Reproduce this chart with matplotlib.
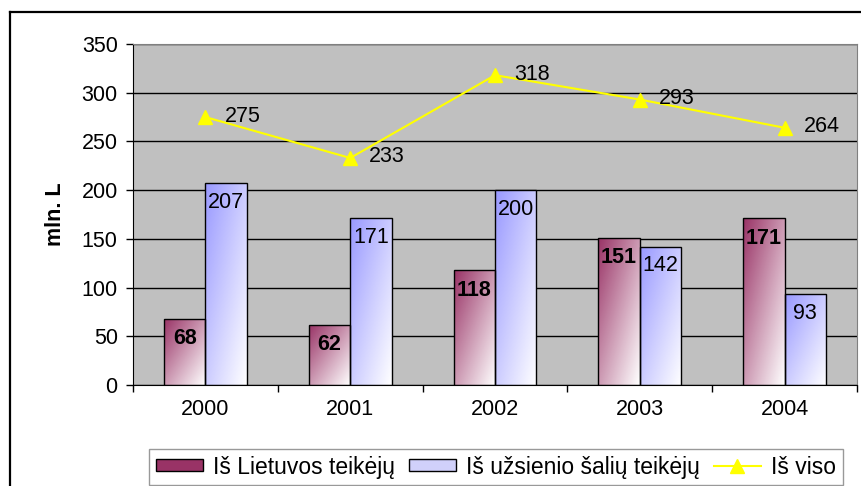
import numpy as np
import matplotlib
matplotlib.use("Agg")
import matplotlib.pyplot as plt
from matplotlib.colors import LinearSegmentedColormap
from matplotlib.patches import Patch
from matplotlib.lines import Line2D

plt.rcParams['font.family'] = ['Liberation Sans', 'DejaVu Sans']

years = ['2000', '2001', '2002', '2003', '2004']
lt_supply = [68, 62, 118, 151, 171]
foreign_supply = [207, 171, 200, 142, 93]
total = [275, 233, 318, 293, 264]
labels = ['Iš Lietuvos teikėjų', 'Iš užsienio šalių teikėjų', 'Iš viso']

fs = 15.5

fig = plt.figure(figsize=(8.62, 4.86), dpi=100)
ax = fig.add_axes([133 / 862, 1 - 385 / 486, 724 / 862, 341 / 486])
ax.set_facecolor('#c0c0c0')

x = np.arange(len(years))
w = 0.286

maroon_cm = LinearSegmentedColormap.from_list('m', ['#993366', '#ffffff'])
blue_cm = LinearSegmentedColormap.from_list('b', ['#9999ff', '#ffffff'])

b1 = ax.bar(x - w / 2, lt_supply, w, facecolor='none', edgecolor='black', lw=1, zorder=3)
b2 = ax.bar(x + w / 2, foreign_supply, w, facecolor='none', edgecolor='black', lw=1, zorder=3)

# diagonal gradient fills, top-left dark -> bottom-right white
gx, gy = np.meshgrid(np.linspace(0, 1, 60), np.linspace(0, 1, 60))
grad = (gx + gy) / 2
for bars, cmap in ((b1, maroon_cm), (b2, blue_cm)):
    for p in bars:
        x0, y0 = p.get_x(), p.get_y()
        im = ax.imshow(grad, cmap=cmap, vmin=0, vmax=1, origin='upper', aspect='auto',
                       extent=(x0, x0 + p.get_width(), y0, y0 + p.get_height()), zorder=2.5)
        im.set_clip_path(p)

ax.plot(x, total, color='#ffff00', lw=1.5, marker='^', markersize=10, zorder=4)

for i in range(len(years)):
    ax.annotate(str(lt_supply[i]), (x[i] - w / 2, lt_supply[i]), xytext=(0, -20),
                textcoords='offset pixels', ha='center', va='center',
                fontsize=fs, fontweight='bold', zorder=5)
    ax.annotate(str(foreign_supply[i]), (x[i] + w / 2, foreign_supply[i]), xytext=(0, -19),
                textcoords='offset pixels', ha='center', va='center', fontsize=fs, zorder=5)
    ax.annotate(str(total[i]), (x[i], total[i]), xytext=(19, 1),
                textcoords='offset pixels', ha='left', va='center', fontsize=fs, zorder=5)

ax.set_xlim(-0.5, len(years) - 0.5)
ax.set_ylim(0, 350)
ax.set_yticks(np.arange(0, 351, 50))
ax.yaxis.grid(True, color='black', lw=1)
ax.set_axisbelow(True)
ax.set_xticks(x)
ax.set_xticklabels(years)
ax.set_xticks(np.arange(-0.5, len(years)), minor=True)
ax.tick_params(axis='x', which='major', length=0, pad=10, labelsize=fs)
ax.tick_params(axis='x', which='minor', length=5, direction='out', width=1)
ax.tick_params(axis='y', length=5, width=1, labelsize=fs, pad=6)
for s in ('top', 'right'):
    ax.spines[s].set_color('#808080')
for s in ('left', 'bottom'):
    ax.spines[s].set_color('black')
ax.set_ylabel('mln. L', fontsize=fs, fontweight='bold', labelpad=11)

handles = [Patch(facecolor='#993366', edgecolor='black'),
           Patch(facecolor='#d0d0fa', edgecolor='black'),
           Line2D([], [], color='#ffff00', lw=1.5, marker='^', markersize=10)]
leg = fig.legend(handles, labels, loc='center', bbox_to_anchor=(496 / 862, 1 - 467 / 486),
                 ncol=3, fontsize=16.5, frameon=True, fancybox=False, handlelength=2.05,
                 handleheight=0.45, handletextpad=0.45, columnspacing=0.6, borderpad=0.3,
                 borderaxespad=0)
leg.get_frame().set_edgecolor('#808080')
leg.get_frame().set_linewidth(1)

# outer chart frame
fig.add_artist(Line2D([10 / 862, 10 / 862], [0, 1 - 12 / 486], color='black', lw=1.6,
                      transform=fig.transFigure))
fig.add_artist(Line2D([10 / 862, 1], [1 - 12 / 486, 1 - 12 / 486], color='black', lw=1.6,
                      transform=fig.transFigure))

fig.savefig('out.png', dpi=100)
